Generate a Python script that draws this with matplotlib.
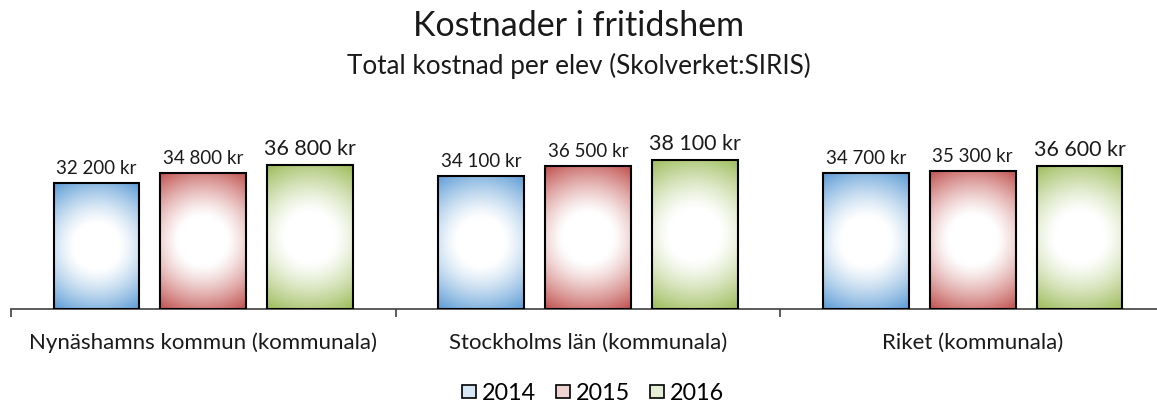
import numpy as np
import matplotlib
matplotlib.use("Agg")
import matplotlib.pyplot as plt
from matplotlib.patches import Rectangle, Patch
from matplotlib.colors import to_rgb

plt.rcParams['font.family'] = ['Lato', 'DejaVu Sans']

# data
categories = ['Nynäshamns kommun (kommunala)', 'Stockholms län (kommunala)', 'Riket (kommunala)']
years = ['2014', '2015', '2016']
values_2014 = [32200, 34100, 34700]
values_2015 = [34800, 36500, 35300]
values_2016 = [36800, 38100, 36600]
series = [values_2014, values_2015, values_2016]
colors = ['#5B9BD5', '#C0504D', '#9BBB59']

W, H, DPI = 1157, 403, 100
fig = plt.figure(figsize=(W / DPI, H / DPI), dpi=DPI)
ax_left, ax_bottom = 11 / W, 94 / H
ax_w, ax_h = 1154 / W, 195.6 / H
ax = fig.add_axes([ax_left, ax_bottom, ax_w, ax_h])
ax.set_xlim(-0.5, 2.5)
ax.set_ylim(0, 50000)

offsets = [-0.278, 0.0, 0.278]
bw = 0.223


def gradient_bar(x0, height, color):
    # radial gradient: white centre, colour towards corners
    rect = Rectangle((x0, 0), bw, height, facecolor='none', edgecolor='black', linewidth=1.5, zorder=3)
    ax.add_patch(rect)
    wpx = bw * ax_w * W / 3.0
    hpx = height / 50000 * ax_h * H
    nx, ny = 90, int(max(20, 90 * hpx / wpx))
    xs = (np.linspace(0, 1, nx) - 0.5) * wpx
    ys = (np.linspace(0, 1, ny) - 0.5) * hpx
    X, Y = np.meshgrid(xs, ys)
    r = np.sqrt(X ** 2 + Y ** 2) / np.sqrt((wpx / 2) ** 2 + (hpx / 2) ** 2)
    t = np.clip((r - 0.3) / 0.7, 0, 1) ** 1.25
    c = np.array(to_rgb(color))
    img = (1 - t[..., None]) * 1.0 + t[..., None] * c
    im = ax.imshow(img, extent=(x0, x0 + bw, 0, height), origin='lower', aspect='auto',
                   interpolation='bilinear', zorder=2)
    im.set_clip_path(rect)


for i, vals in enumerate(series):
    for g, v in enumerate(vals):
        x0 = g + offsets[i] - bw / 2
        gradient_bar(x0, v, colors[i])
        label = f"{v:,}".replace(',', ' ') + ' kr'
        fs = 15.5 if i == 2 else 13.5
        ax.text(g + offsets[i], v + 1500, label, ha='center', va='bottom', fontsize=fs, color='#1a1a1a')

for s in ['top', 'left', 'right']:
    ax.spines[s].set_visible(False)
ax.spines['bottom'].set_color('#404040')
ax.spines['bottom'].set_linewidth(1.2)
ax.set_yticks([])
ax.set_xticks(range(len(categories)))
ax.set_xticklabels(categories, fontsize=16, color='#1a1a1a')
ax.tick_params(axis='x', which='major', length=0, pad=17)
ax.set_xticks([-0.5, 0.5, 1.5, 2.5], minor=True)
ax.tick_params(axis='x', which='minor', length=6, width=1.2, color='#404040', direction='out')

fig.text(0.5, 1 - 26 / H, 'Kostnader i fritidshem', ha='center', va='center', fontsize=24.5, color='#1a1a1a')
fig.text(0.5, 1 - 66 / H, 'Total kostnad per elev (Skolverket:SIRIS)', ha='center', va='center',
         fontsize=18.8, color='#1a1a1a')

handles = []
for c in colors:
    pale = 0.75 * np.ones(3) + 0.25 * np.array(to_rgb(c))
    handles.append(Patch(facecolor=pale, edgecolor='black', linewidth=1.2))
fig.legend(handles, years, loc='center', bbox_to_anchor=(593 / W, 1 - 393 / H), ncol=3, frameon=False,
           fontsize=16.8, handlelength=0.6, handleheight=0.5, handletextpad=0.25, columnspacing=0.85)

fig.savefig('out.png', dpi=DPI)
